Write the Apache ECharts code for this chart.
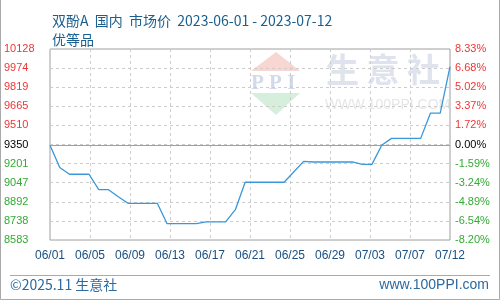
<!DOCTYPE html>
<html>
<head>
<meta charset="utf-8">
<script src="https://cdn.jsdelivr.net/npm/echarts@6/dist/echarts.min.js"></script>
<style>
html,body{margin:0;padding:0;background:#fff;}
#c{width:500px;height:300px;}
</style>
</head>
<body>
<div id="c"></div>
<script>
var dates = ['06/01','06/02','06/03','06/04','06/05','06/06','06/07','06/08','06/09','06/10',
  '06/11','06/12','06/13','06/14','06/15','06/16','06/17','06/18','06/19','06/20',
  '06/21','06/22','06/23','06/24','06/25','06/26','06/27','06/28','06/29','06/30',
  '07/01','07/02','07/03','07/04','07/05','07/06','07/07','07/08','07/09','07/10',
  '07/11','07/12'];
var prices = [9350,9170,9115,9115,9115,8990,8990,8933,8880,8880,
  8880,8880,8715,8715,8715,8715,8730,8730,8730,8828,
  9050,9050,9050,9050,9050,9135,9219,9214,9214,9214,
  9214,9214,9195,9195,9350,9405,9405,9405,9405,9610,
  9610,9985];
var xTickLabels = ['06/01','06/05','06/09','06/13','06/17','06/21','06/25','06/29','07/03','07/07','07/12'];
var priceTickLabels = ['8583','8738','8892','9047','9201','9350','9510','9665','9819','9974','10128'];
var pctTickLabels = ['-8.20%','-6.54%','-4.89%','-3.24%','-1.59%','0.00%','1.72%','3.37%','5.02%','6.68%','8.33%'];
var basePrice = 9350;
var priceMin = 8583, priceMax = 10128;

function labelColor(v){
  if (v > 5) return '#f03535';
  if (v < 5) return '#33aa33';
  return '#000000';
}

var chart = echarts.init(document.getElementById('c'), null, {renderer:'canvas'});
var dash = {color:'#cccccc', width:1, type:[3,3]};
chart.setOption({
  animation:false,
  backgroundColor:'#ffffff',
  title:{
    text:'双酚A  国内  市场价  2023-06-01 - 2023-07-12\n优等品',
    left:47, top:6,
    textStyle:{fontSize:14, fontWeight:'normal', color:'#1a5f8e', lineHeight:19,
      fontFamily:'"Noto Sans CJK SC", sans-serif'}
  },
  grid:{left:50, top:49, width:400, height:191, show:true, borderColor:'#a0a0a0', borderWidth:1},
  xAxis:[
    {type:'category', data:dates, boundaryGap:false, show:false},
    {type:'value', min:0, max:10, interval:1, position:'bottom',
      axisLine:{show:false}, axisTick:{show:false},
      splitLine:{show:true, lineStyle:dash},
      axisLabel:{margin:10, fontSize:12, color:'#1b4f80', fontFamily:'"Liberation Sans", Arial, sans-serif',
        formatter:function(v){return xTickLabels[Math.round(v)];}}}
  ],
  yAxis:[
    {type:'value', min:priceMin, max:priceMax, show:false},
    {type:'value', min:0, max:10, interval:1, position:'left',
      axisLine:{show:false}, axisTick:{show:false},
      splitLine:{show:true, lineStyle:dash},
      axisLabel:{margin:46, align:'left', fontSize:11, fontFamily:'"Liberation Sans", Arial, sans-serif',
        color:function(v){return labelColor(Number(v));},
        formatter:function(v){return priceTickLabels[Math.round(v)];}}},
    {type:'value', min:0, max:10, interval:1, position:'right',
      axisLine:{show:false}, axisTick:{show:false}, splitLine:{show:false},
      axisLabel:{margin:5, align:'left', fontSize:11, fontFamily:'"Liberation Sans", Arial, sans-serif',
        color:function(v){return labelColor(Number(v));},
        formatter:function(v){return pctTickLabels[Math.round(v)];}}}
  ],
  series:[{
    type:'line', xAxisIndex:0, yAxisIndex:0, data:prices,
    showSymbol:false, symbol:'none', z:5,
    lineStyle:{color:'#3a97d9', width:1.3},
    markLine:{silent:true, symbol:'none', label:{show:false},
      lineStyle:{color:'#a0a0a0', type:'solid', width:1},
      data:[{yAxis:basePrice}]}
  }],
  graphic:[
    {type:'polygon', z:-10, shape:{points:[[276,52],[251,71],[300,71]]}, style:{fill:'#f8d6d2'}},
    {type:'polygon', z:-10, shape:{points:[[251,93],[300,93],[276,115]]}, style:{fill:'#d6efdc'}},
    {type:'text', z:-10, left:251, top:73, style:{text:'P P I', font:'bold 21px "Liberation Serif", serif', fill:'#d2d9e9'}},
    {type:'text', z:-10, left:326, top:53, style:{text:'生 意 社', font:'bold 33px "Noto Sans CJK SC", sans-serif', fill:'#dfe3ed'}},
    {type:'text', z:-10, left:325, top:98, style:{text:'WWW.100PPI.COM', font:'14px "Liberation Sans", Arial, sans-serif', fill:'#e6e6e6'}},
    {type:'line', shape:{x1:10, y1:275.5, x2:490, y2:275.5}, style:{stroke:'#aaaaaa', lineWidth:1}},
    {type:'text', left:10, top:278, style:{text:'©2025.11 生意社', font:'14px "Noto Sans CJK SC", sans-serif', fill:'#2b6aa0'}},
    {type:'text', right:11, top:278, style:{text:'www.100PPI.com', font:'14px "Liberation Sans", Arial, sans-serif', fill:'#2b6aa0'}},
    {type:'polyline', shape:{points:[[0.5,0],[0.5,299.5],[499.5,299.5],[499.5,0]]}, style:{stroke:'#aaaaaa', fill:null, lineWidth:1}}
  ]
});
</script>
</body>
</html>
